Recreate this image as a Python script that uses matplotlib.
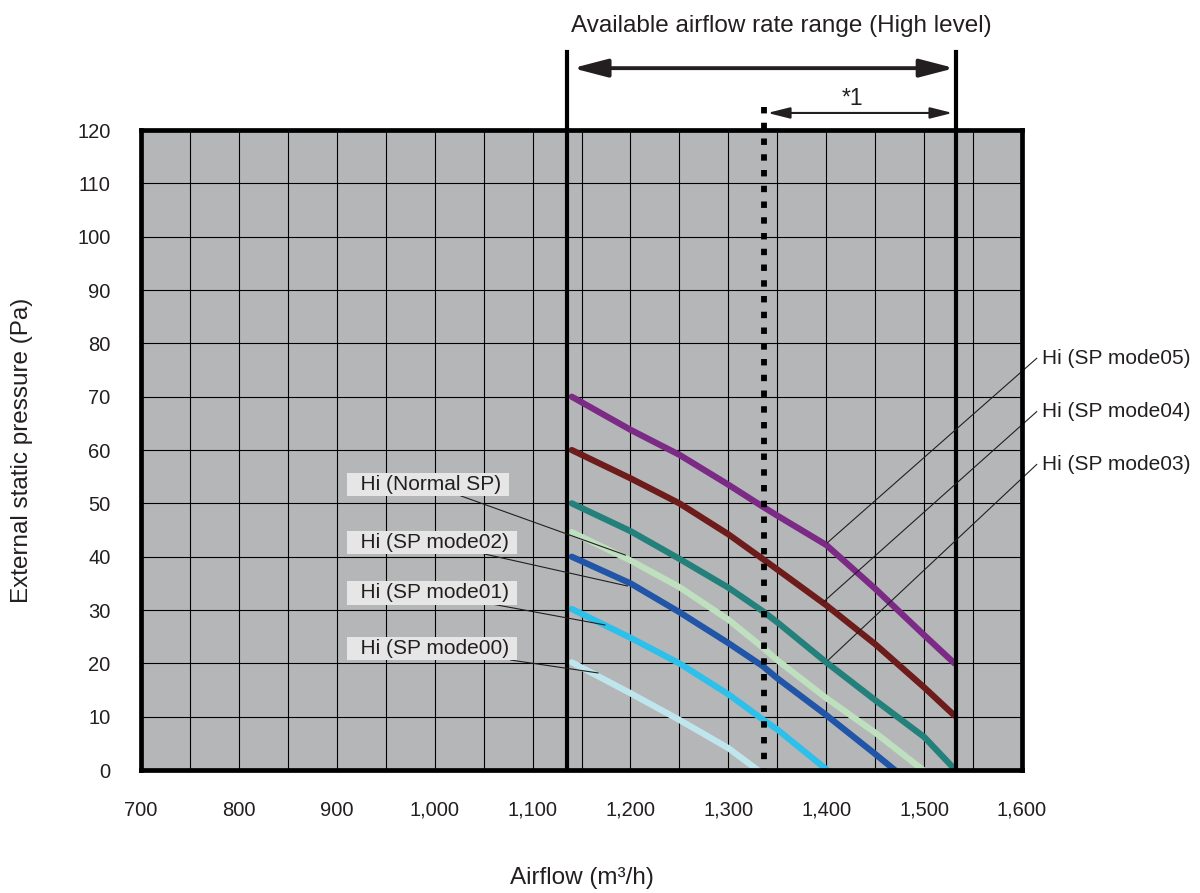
import matplotlib.pyplot as plt
from matplotlib.ticker import FuncFormatter, MultipleLocator

plt.rcParams['font.family'] = ['Liberation Sans', 'DejaVu Sans']

# Fan curves (airflow m3/h, external static pressure Pa)
mode05_x = [1140, 1200, 1250, 1300, 1335, 1350, 1400, 1450, 1500, 1531]
mode05_y = [70, 63.8, 59.1, 53.5, 49.4, 47.7, 42.2, 34.0, 25.3, 20]
mode04_x = [1140, 1200, 1250, 1300, 1335, 1350, 1400, 1450, 1500, 1531]
mode04_y = [60, 54.7, 50.0, 44.2, 39.6, 37.6, 30.9, 23.6, 15.5, 10.2]
mode03_x = [1140, 1200, 1250, 1300, 1335, 1350, 1400, 1450, 1500, 1532]
mode03_y = [50, 44.8, 39.6, 34.2, 29.8, 27.7, 20.2, 13.1, 6.2, 0]
normal_x = [1140, 1200, 1250, 1300, 1335, 1350, 1400, 1450, 1499]
normal_y = [44.6, 39.3, 34.3, 28.2, 23.0, 20.6, 13.5, 7.0, 0]
mode02_x = [1140, 1200, 1250, 1300, 1335, 1350, 1400, 1450, 1470]
mode02_y = [40, 35.0, 29.6, 23.8, 19.5, 17.2, 10.3, 3.0, 0]
mode01_x = [1140, 1200, 1250, 1300, 1335, 1350, 1401]
mode01_y = [30.2, 24.8, 20.0, 14.2, 9.5, 7.6, 0]
mode00_x = [1140, 1200, 1250, 1300, 1330]
mode00_y = [20.2, 14.4, 9.4, 4.1, 0]

curves = [
    (mode05_x, mode05_y, '#7b2a86'),
    (mode04_x, mode04_y, '#6e1b1c'),
    (mode03_x, mode03_y, '#23807a'),
    (normal_x, normal_y, '#bfe0bf'),
    (mode02_x, mode02_y, '#2155a8'),
    (mode01_x, mode01_y, '#2cc0eb'),
    (mode00_x, mode00_y, '#bfe6ec'),
]

# Available range markers
range_min = 1135
range_star = 1336
range_max = 1533

# Leader labels: text, label anchor (x, y), curve point (x, y)
left_labels = [
    ('Hi (Normal SP)', (1074, 53.6), (1195, 40.3)),
    ('Hi (SP mode02)', (1082, 42.7), (1197, 34.5)),
    ('Hi (SP mode01)', (1082, 33.2), (1174, 27.2)),
    ('Hi (SP mode00)', (1082, 22.8), (1167, 18.2)),
]
right_labels = [
    ('Hi (SP mode05)', (1615, 77.2), (1401, 42.6)),
    ('Hi (SP mode04)', (1615, 67.2), (1397, 31.5)),
    ('Hi (SP mode03)', (1615, 57.3), (1402, 20.6)),
]

text_color = '#231f20'
fig = plt.figure(figsize=(12, 8.93), dpi=100)
ax = fig.add_axes([0.1175, 0.1377, 0.7342, 0.7167])
ax.set_facecolor('#b5b6b8')
ax.set_xlim(700, 1600)
ax.set_ylim(0, 120)

ax.xaxis.set_major_locator(MultipleLocator(100))
ax.xaxis.set_minor_locator(MultipleLocator(50))
ax.yaxis.set_major_locator(MultipleLocator(10))
ax.xaxis.set_major_formatter(FuncFormatter(lambda v, p: f'{int(v):,}'))
ax.grid(True, which='both', axis='x', color='black', lw=0.8)
ax.grid(True, which='major', axis='y', color='black', lw=0.8)
ax.set_axisbelow(True)
ax.tick_params(which='both', length=0, labelsize=14.5, labelcolor=text_color)
ax.tick_params(axis='x', pad=22)
ax.tick_params(axis='y', pad=22)
for s in ax.spines.values():
    s.set_linewidth(3.4)
    s.set_color('black')
    s.set_zorder(6)

for xs, ys, c in curves:
    ax.plot(xs, ys, color=c, lw=4.5, solid_capstyle='round',
            solid_joinstyle='round', zorder=4)

# Range lines, extended above the plot
ax.plot([range_min, range_min], [0, 134.6], color='black', lw=3, clip_on=False, zorder=5)
ax.plot([range_max, range_max], [0, 134.6], color='black', lw=3, clip_on=False, zorder=5)
# drawn top-down so the dash pattern starts at the top
ax.plot([range_star, range_star], [124.4, 0], color='black', lw=4.2,
        linestyle=(0, (1.1, 1.6)), clip_on=False, zorder=5)

ax.annotate('', xy=(range_min + 6, 131.6), xytext=(range_max - 2, 131.6),
            arrowprops=dict(arrowstyle='<|-|>,head_length=1,head_width=0.26',
                            color=text_color, lw=2.8, mutation_scale=21,
                            shrinkA=0, shrinkB=0),
            annotation_clip=False)
ax.annotate('', xy=(range_star + 4, 123.2), xytext=(range_max - 4, 123.2),
            arrowprops=dict(arrowstyle='<|-|>,head_length=1,head_width=0.25',
                            color=text_color, lw=1.5, mutation_scale=13.5,
                            shrinkA=0, shrinkB=0),
            annotation_clip=False)
ax.text(1427, 125.9, '*1', ha='center', va='center', fontsize=16.5, color=text_color)
ax.text(1354, 139.5, 'Available airflow rate range (High level)',
        ha='center', va='center', fontsize=17.5, color=text_color)

for txt, (tx, ty), (px, py) in left_labels:
    ax.annotate('  ' + txt + ' ', xy=(px, py), xytext=(tx, ty), ha='right', va='center',
                fontsize=15, color=text_color,
                bbox=dict(boxstyle='square,pad=0.1', fc='#e6e6e6', ec='none'),
                arrowprops=dict(arrowstyle='-', color=text_color, lw=0.8,
                                shrinkA=0, shrinkB=0), zorder=5)
for txt, (tx, ty), (px, py) in right_labels:
    ax.plot([tx, px], [ty, py], color=text_color, lw=0.8, clip_on=False, zorder=5)
    ax.text(tx + 5, ty, txt, ha='left', va='center', fontsize=15, color=text_color)

ax.set_xlabel('Airflow (m³/h)', fontsize=17.5, color=text_color, labelpad=34)
ax.set_ylabel('External static pressure (Pa)', fontsize=17.5, color=text_color, labelpad=32)

fig.savefig('out.png', dpi=100)
